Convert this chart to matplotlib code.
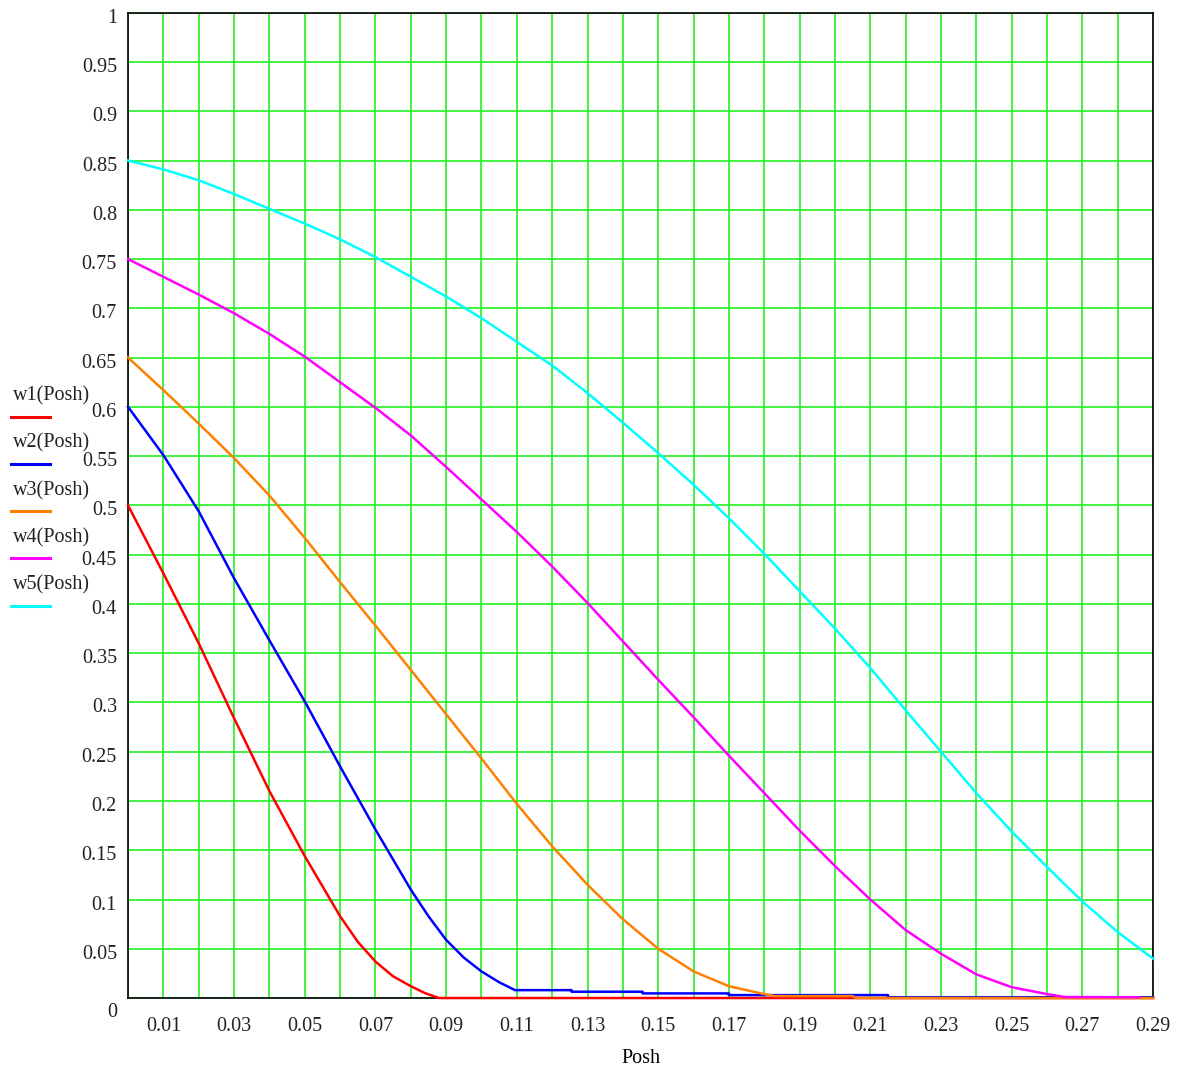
import numpy as np
import matplotlib
matplotlib.use("Agg")
import matplotlib.pyplot as plt
from matplotlib.lines import Line2D
from matplotlib.transforms import ScaledTranslation

plt.rcParams['font.family'] = ['Liberation Serif', 'DejaVu Serif']

# values
xs = [round(0.01 * i, 2) for i in range(30)]

w1_x = [0, 0.01, 0.02, 0.03, 0.04, 0.05, 0.06, 0.065, 0.07, 0.075, 0.08, 0.084, 0.088, 0.29]
w1_y = [0.5, 0.431, 0.36, 0.284, 0.21, 0.144, 0.083, 0.057, 0.037, 0.022, 0.012, 0.005, 0.0, 0.0]

w2_x = [0, 0.01, 0.02, 0.03, 0.04, 0.05, 0.06, 0.07, 0.08, 0.085, 0.09, 0.095, 0.10, 0.105, 0.1095,
        0.1255, 0.1255, 0.1456, 0.1456, 0.170, 0.170, 0.215, 0.215, 0.29]
w2_y = [0.6, 0.551, 0.494, 0.426, 0.363, 0.301, 0.235, 0.171, 0.110, 0.083, 0.059, 0.041, 0.027, 0.016, 0.008,
        0.008, 0.0064, 0.0064, 0.0047, 0.0047, 0.003, 0.003, 0.0008, 0.0008]

w3_x = xs[:19] + [0.183, 0.205, 0.206, 0.29]
w3_y = [0.65, 0.617, 0.583, 0.548, 0.510, 0.467, 0.422, 0.378, 0.333, 0.288,
        0.243, 0.197, 0.154, 0.115, 0.080, 0.050, 0.027, 0.012, 0.004,
        0.002, 0.002, 0.0, 0.0]

w4_x = xs[:27] + [0.265, 0.286]
w4_y = [0.75, 0.732, 0.714, 0.695, 0.674, 0.651, 0.625, 0.599, 0.571, 0.539,
        0.506, 0.473, 0.438, 0.401, 0.362, 0.323, 0.285, 0.246, 0.208, 0.170,
        0.134, 0.100, 0.069, 0.045, 0.024, 0.011, 0.004, 0.001, 0.0008]

w5_x = xs
w5_y = [0.85, 0.841, 0.830, 0.816, 0.801, 0.786, 0.770, 0.752, 0.732, 0.712,
        0.690, 0.666, 0.642, 0.614, 0.584, 0.553, 0.521, 0.487, 0.451, 0.413,
        0.375, 0.335, 0.292, 0.250, 0.208, 0.169, 0.133, 0.098, 0.067, 0.040]

names = ['w1(Posh)', 'w2(Posh)', 'w3(Posh)', 'w4(Posh)', 'w5(Posh)']
colors = ['#ff0000', '#0000ff', '#ff8000', '#ff00ff', '#00ffff']
series = [(w1_x, w1_y), (w2_x, w2_y), (w3_x, w3_y), (w4_x, w4_y), (w5_x, w5_y)]

x_ticks = [round(0.01 + 0.02 * i, 2) for i in range(15)]
y_ticks = [round(0.05 * i, 2) for i in range(21)]

fig = plt.figure(figsize=(11.79, 10.72), dpi=100)
ax = fig.add_axes([0.1086, 0.069, 0.8694, 0.9191])

for (x, y), c in zip(series, colors):
    ax.plot(x, y, color=c, lw=1.8, clip_on=False, zorder=3)

ax.set_xlim(0, 0.29)
ax.set_ylim(0, 1)
ax.set_xticks(x_ticks)
ax.set_xticklabels(['%g' % t for t in x_ticks])
ax.set_xticks(xs, minor=True)
ax.set_yticks(y_ticks)
ax.set_yticklabels(['%g' % t for t in y_ticks])

ax.grid(True, which='both', axis='x', color='#22f022', lw=1.2, zorder=1)
ax.grid(True, which='major', axis='y', color='#22f022', lw=1.2, zorder=1)
ax.tick_params(which='both', length=0, labelsize=14.5, colors='#222222')
ax.tick_params(axis='x', pad=14)
ax.tick_params(axis='y', pad=8)
for s in ax.spines.values():
    s.set_color('black')
    s.set_linewidth(1.2)
    s.set_zorder(2)

# the "0" label sits a little lower in the reference
lab0 = ax.get_yticklabels()[0]
lab0.set_transform(lab0.get_transform() + ScaledTranslation(0, -0.12, fig.dpi_scale_trans))
for lab in ax.get_yticklabels()[1:]:
    lab.set_transform(lab.get_transform() + ScaledTranslation(0, -0.03, fig.dpi_scale_trans))

ax.set_xlabel('Posh', fontsize=14.5, labelpad=9)

# legend on the left: label above a short line sample
for i, (n, c) in enumerate(zip(names, colors)):
    ty = 1 - (396 + 47.3 * i) / 1072
    ly = 1 - (416.5 + 47.3 * i) / 1072
    fig.text(0.011, ty, n, fontsize=14.5, va='center', ha='left', color='#222222')
    fig.add_artist(Line2D([0.0093, 0.0424], [ly, ly], color=c, lw=2.2,
                          transform=fig.transFigure))

fig.savefig('out.png', dpi=100)
